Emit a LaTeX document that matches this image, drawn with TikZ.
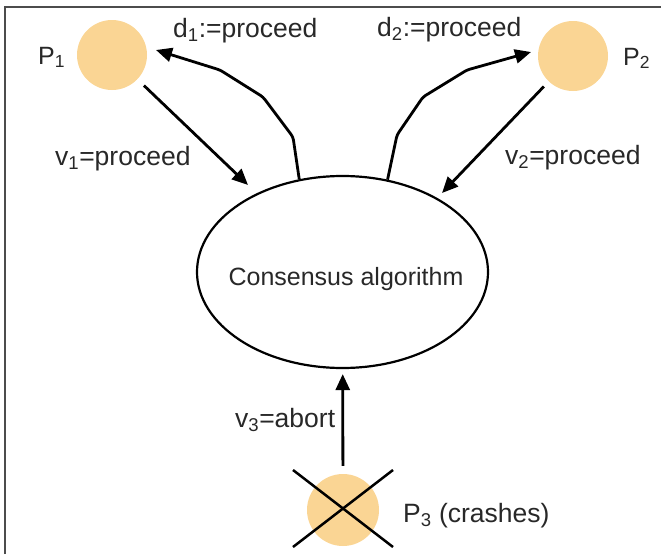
\documentclass[tikz,border=0pt]{standalone}
\usepackage{fontspec}
\setmainfont{Liberation Sans}
\usetikzlibrary{arrows.meta,shapes.geometric}
\definecolor{peach}{RGB}{250,213,148}
\definecolor{txt}{RGB}{40,40,40}
\begin{document}
\begin{tikzpicture}[x=1pt,y=-1pt,
  proc/.style={circle, fill=peach, minimum size=70pt, inner sep=0pt},
  arr/.style={line width=2.8pt, -{Triangle[length=16pt,width=14pt]}},
  lbl/.style={font=\fontsize{26.5}{31}\selectfont, text=txt, inner sep=0pt, anchor=base west},
  plbl/.style={font=\fontsize{25}{30}\selectfont, text=txt, inner sep=0pt, anchor=base west},
]
\useasboundingbox (0,0) rectangle (661,554);
\draw[line width=2pt, black!70] (5,554) -- (5,7) -- (661,7);

% processes
\node[proc] (P1) at (112,55) {};
\node[proc] (P2) at (573,56) {};
\node[proc, minimum size=72pt] (P3) at (343,510) {};
\node[plbl] (P1l) at (38,64) {P\textsubscript{1}};
\node[plbl] (P2l) at (623,65) {P\textsubscript{2}};
\node[lbl] (P3l) at (403,522) {P\textsubscript{3} (crashes)};

% consensus
\node[draw, ellipse, line width=2.2pt, minimum width=291pt, minimum height=192pt, inner sep=0pt] (E) at (342.5,272) {};
\node[font=\fontsize{25}{30}\selectfont, text=txt, inner sep=0pt, anchor=base] (Et) at (346,285) {Consensus algorithm};

% coordinates for free ends
\coordinate (d1e) at (156,50);
\coordinate (d2e) at (531,52);
\coordinate (v1e) at (248,185);
\coordinate (v2e) at (442,193);

% connectors
\draw[arr, rounded corners=3pt] (E.115) -- (293,137) -- (263,97) -- (220,70) -- (d1e);
\draw[arr, rounded corners=3pt] (E.64) -- (397,135) -- (423,97) -- (467,70) -- (d2e);
\draw[arr, shorten <=9pt] (P1) -- (v1e);
\draw[arr, shorten <=7pt] (P2) -- (v2e);
\draw[arr, shorten <=8pt, shorten >=5pt] (P3) -- (E);

% labels
\node[lbl] (d1l) at (173,37) {d\textsubscript{1}:=proceed};
\node[lbl] (d2l) at (377,36) {d\textsubscript{2}:=proceed};
\node[lbl] (v1l) at (55,165) {v\textsubscript{1}=proceed};
\node[lbl] (v2l) at (505,164) {v\textsubscript{2}=proceed};
\node[lbl] (v3l) at (235,427) {v\textsubscript{3}=abort};

% crash cross
\draw[line width=2.5pt] (293,470) -- (393,547);
\draw[line width=2.5pt] (393,470) -- (293,547);
\end{tikzpicture}
\end{document}
